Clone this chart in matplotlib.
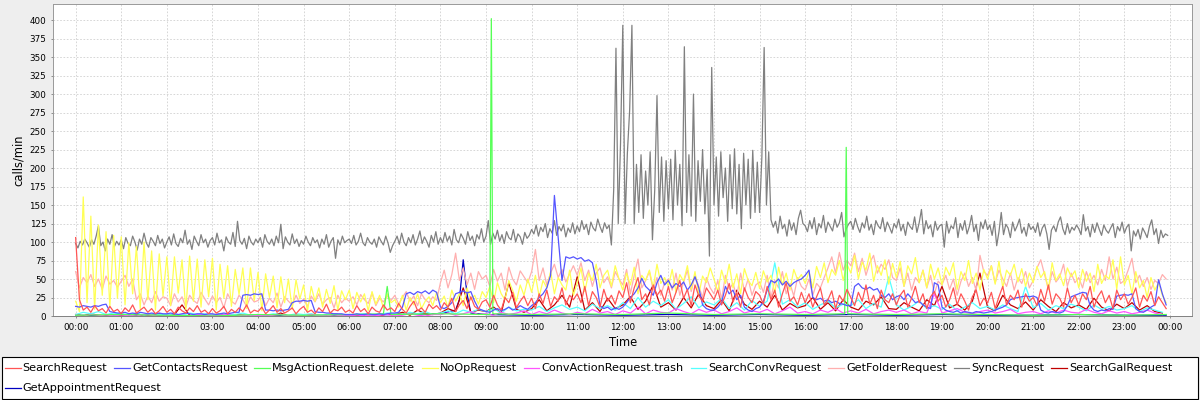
import numpy as np
import matplotlib
matplotlib.use("Agg")
import matplotlib.pyplot as plt
from matplotlib.lines import Line2D
from matplotlib.patches import Rectangle

# SyncRequest, one value every 3 minutes (20 per hour)
sync = [
    98, 92, 101, 96, 104, 99, 93, 103, 97, 108, 122, 95, 100, 88, 104, 97, 110, 94, 101, 96,
    103, 91, 106, 98, 95, 108, 100, 89, 104, 97, 112, 99, 93, 106, 101, 95, 109, 98, 104, 92,
    100, 107, 96, 111, 98, 94, 105, 99, 116, 97, 103, 90, 108, 101, 95, 110, 99, 104, 93, 102,
    106, 96, 112, 99, 103, 88, 107, 100, 97, 113, 94, 128, 102, 97, 105, 91, 108, 100, 96, 104,
    99, 106, 93, 110, 101, 97, 104, 95, 108, 99, 124, 91, 107, 100, 96, 111, 98, 104, 94, 102,
    97, 108, 100, 95, 106, 99, 103, 92, 104, 97, 110, 93, 101, 106, 78, 103, 96, 108, 99, 102,
    104, 98, 109, 96, 101, 112, 99, 95, 106, 100, 97, 104, 93, 107, 101, 96, 108, 99, 86, 95,
    101, 108, 97, 112, 100, 95, 106, 99, 110, 96, 104, 115, 98, 107, 101, 93, 109, 100, 114, 97,
    106, 99, 113, 101, 108, 96, 117, 103, 99, 111, 105, 97, 114, 102, 108, 95, 110, 104, 118, 100,
    108, 129, 97, 112, 104, 116, 101, 110, 98, 114, 106, 103, 117, 100, 111, 107, 97, 113, 105, 109,
    117, 111, 123, 108, 120, 114, 125, 106, 118, 112, 129, 109, 121, 115, 124, 107, 119, 113, 126, 111,
    122, 114, 129, 117, 124, 110, 127, 119, 115, 131, 121, 113, 126, 118, 123, 96, 170, 362, 125, 233,
    393, 125, 220, 278, 393, 125, 205, 140, 218, 132, 196, 150, 222, 103, 170, 298, 140, 215, 128, 210,
    145, 212, 130, 224, 150, 205, 122, 364, 140, 218, 135, 300, 128, 210, 155, 225, 138, 198, 81, 336,
    150, 215, 135, 222, 160, 200, 128, 218, 145, 226, 138, 205, 118, 220, 150, 212, 132, 224, 140, 208,
    140, 215, 363, 150, 222, 130, 120, 128, 112, 135, 118, 124, 108, 130, 116, 126, 110, 132, 143, 125,
    122, 114, 129, 118, 133, 110, 125, 119, 136, 113, 127, 121, 115, 131, 120, 126, 140, 107, 118, 124,
    128, 117, 132, 121, 113, 126, 119, 135, 116, 124, 110, 129, 122, 118, 133, 114, 127, 120, 112, 125,
    119, 131, 115, 124, 109, 127, 121, 117, 134, 113, 126, 144, 111, 129, 118, 123, 107, 128, 116, 122,
    124, 93, 128, 112, 122, 118, 133, 106, 125, 116, 129, 111, 121, 136, 114, 124, 102, 127, 118, 130,
    117, 123, 109, 128, 95, 114, 140, 110, 124, 119, 106, 127, 115, 122, 131, 112, 120, 108, 125, 117,
    121, 113, 126, 108, 119, 124, 111, 90, 116, 122, 114, 127, 134, 118, 110, 125, 112, 120, 116, 123,
    118, 110, 137, 115, 121, 107, 124, 113, 126, 117, 109, 123, 116, 112, 119, 125, 106, 121, 115, 127,
    112, 120, 124, 88, 115, 108, 117, 104, 119, 113, 106, 121, 130, 110, 118, 98, 116, 106, 111, 109,
]

# NoOpRequest, GetFolderRequest, SearchRequest, GetContactsRequest: every 5 minutes
noop = [
    20, 6, 161, 18, 135, 9, 123, 28, 114, 12, 109, 24,
    107, 15, 99, 30, 94, 10, 100, 22, 88, 8, 84, 27,
    80, 14, 80, 31, 76, 9, 81, 20, 77, 12, 76, 26,
    78, 8, 70, 24, 68, 13, 63, 29, 65, 10, 65, 21,
    59, 7, 57, 25, 54, 11, 53, 18, 50, 9, 49, 23,
    42, 6, 40, 20, 38, 12, 36, 17, 41, 8, 34, 22,
    35, 10, 32, 19, 30, 7, 33, 16, 28, 11, 30, 18,
    22, 12, 28, 8, 25, 15, 30, 10, 20, 26, 14, 32,
    18, 27, 11, 35, 20, 30, 14, 38, 22, 28, 16, 33,
    25, 40, 18, 45, 30, 22, 48, 35, 20, 42, 28, 50,
    32, 55, 26, 48, 38, 60, 30, 52, 42, 35, 62, 28,
    45, 65, 33, 58, 48, 70, 38, 55, 62, 40, 68, 50,
    35, 58, 42, 66, 30, 55, 48, 62, 38, 70, 44, 52,
    40, 63, 32, 56, 47, 68, 36, 60, 29, 54, 45, 65,
    50, 33, 62, 44, 70, 38, 57, 30, 64, 48, 41, 59,
    37, 61, 46, 55, 31, 66, 42, 58, 35, 63, 49, 56,
    44, 60, 38, 67, 52, 72, 45, 63, 55, 75, 48, 70,
    58, 82, 50, 73, 62, 85, 47, 68, 55, 76, 43, 71,
    52, 74, 40, 68, 57, 79, 45, 62, 38, 70, 50, 65,
    42, 66, 55, 72, 36, 60, 48, 75, 44, 58, 35, 63,
    50, 68, 43, 74, 38, 62, 55, 70, 46, 64, 40, 58,
    45, 67, 52, 60, 36, 72, 48, 57, 41, 65, 53, 61,
    38, 63, 47, 58, 33, 70, 44, 55, 50, 76, 36, 80,
    42, 55, 30, 60, 38, 48, 25, 52, 35, 45, 28, 18,
]

folder = [
    60, 38, 52, 45, 56, 40, 50, 36, 54, 43, 48, 39,
    47, 55, 40, 50, 22, 30, 15, 27, 18, 33, 20, 26,
    24, 14, 30, 19, 26, 12, 28, 21, 17, 32, 23, 15,
    27, 18, 25, 11, 30, 20, 16, 28, 22, 13, 26, 19,
    21, 29, 14, 24, 18, 31, 12, 26, 20, 15, 28, 17,
    23, 13, 27, 19, 30, 16, 22, 25, 11, 28, 18, 24,
    20, 26, 15, 29, 22, 17, 31, 14, 24, 19, 27, 21,
    28, 16, 25, 33, 20, 27, 14, 30, 22, 18, 26, 21,
    45, 62, 38, 56, 85, 48, 65, 42, 58, 36, 60, 50,
    55, 40, 63, 47, 58, 35, 66, 50, 42, 61, 53, 45,
    60, 90, 48, 65, 42, 58, 70, 52, 63, 46, 57, 68,
    55, 72, 48, 62, 40, 58, 65, 45, 53, 38, 60, 50,
    42, 63, 30, 55, 77, 38, 48, 60, 35, 52, 28, 45,
    50, 35, 58, 28, 46, 62, 33, 55, 40, 25, 52, 38,
    30, 48, 22, 55, 36, 44, 26, 58, 34, 50, 28, 42,
    46, 32, 55, 25, 48, 38, 60, 30, 44, 27, 52, 40,
    35, 50, 28, 44, 38, 52, 65, 80, 58, 86, 62, 75,
    68, 85, 60, 78, 55, 72, 82, 58, 70, 63, 76, 52,
    48, 65, 40, 58, 35, 52, 45, 62, 38, 55, 30, 47,
    42, 55, 36, 50, 28, 47, 58, 40, 52, 34, 82, 60,
    55, 68, 45, 62, 50, 40, 58, 35, 52, 44, 60, 38,
    48, 65, 76, 56, 36, 60, 46, 53, 70, 40, 58, 45,
    52, 38, 60, 45, 55, 42, 63, 48, 80, 50, 66, 44,
    48, 62, 78, 45, 55, 40, 52, 36, 48, 44, 56, 50,
]

search = [
    106, 22, 8, 12, 5, 14, 7, 10, 4, 13, 6, 9,
    3, 11, 6, 15, 4, 8, 12, 5, 10, 3, 7, 13,
    5, 9, 3, 12, 7, 4, 11, 6, 14, 5, 8, 3,
    10, 4, 7, 13, 3, 9, 5, 11, 6, 15, 4, 8,
    6, 12, 3, 8, 14, 5, 10, 4, 7, 11, 3, 9,
    13, 5, 8, 3, 11, 6, 16, 4, 9, 7, 12, 5,
    8, 4, 14, 6, 10, 3, 12, 7, 5, 15, 8, 11,
    6, 17, 9, 4, 13, 20, 7, 11, 5, 16, 10, 14,
    8, 18, 12, 24, 6, 15, 21, 10, 26, 13, 9, 19,
    22, 12, 28, 15, 8, 25, 18, 32, 11, 20, 27, 14,
    24, 10, 30, 17, 35, 13, 26, 20, 38, 15, 28, 22,
    30, 18, 40, 14, 33, 25, 12, 36, 20, 28, 16, 34,
    25, 45, 18, 38, 52, 22, 30, 15, 42, 28, 35, 20,
    40, 18, 32, 48, 24, 36, 14, 42, 27, 20, 38, 30,
    22, 35, 15, 28, 44, 19, 31, 12, 38, 25, 18, 33,
    28, 16, 40, 22, 35, 12, 30, 45, 20, 26, 15, 32,
    18, 30, 12, 26, 38, 15, 22, 34, 10, 28, 20, 36,
    25, 14, 32, 20, 42, 16, 28, 10, 35, 22, 18, 30,
    15, 28, 35, 12, 24, 40, 18, 30, 10, 26, 33, 20,
    28, 12, 22, 38, 15, 30, 20, 8, 26, 35, 14, 24,
    18, 32, 10, 26, 40, 15, 28, 22, 35, 12, 30, 20,
    25, 14, 36, 20, 42, 16, 30, 24, 12, 38, 18, 28,
    15, 30, 22, 40, 12, 26, 34, 18, 28, 10, 35, 22,
    30, 16, 25, 38, 12, 28, 20, 33, 14, 26, 18, 10,
]

contacts = [
    13, 12, 14, 13, 12, 14, 13, 15, 16, 6, 5, 4,
    4, 5, 3, 4, 3, 5, 4, 3, 4, 3, 4, 3,
    3, 4, 3, 2, 3, 4, 3, 2, 3, 3, 2, 3,
    3, 2, 3, 4, 3, 4, 5, 5, 28, 29, 28, 30,
    29, 30, 8, 8, 7, 8, 7, 8, 9, 18, 20, 20,
    21, 20, 21, 6, 5, 5, 4, 4, 3, 3, 3, 2,
    2, 2, 3, 2, 2, 3, 2, 2, 3, 2, 3, 4,
    4, 5, 12, 30, 32, 29, 33, 31, 34, 30, 35, 32,
    12, 10, 13, 18, 30, 32, 34, 31, 33, 20, 10, 8,
    6, 5, 8, 10, 7, 9, 12, 8, 10, 14, 11, 9,
    14, 18, 25, 30, 38, 55, 163, 105, 48, 80, 78, 80,
    77, 79, 74, 76, 72, 48, 14, 10, 12, 8, 11, 9,
    12, 18, 25, 30, 38, 51, 40, 35, 28, 45, 55, 42,
    48, 38, 44, 40, 46, 35, 42, 53, 38, 15, 10, 8,
    8, 12, 18, 40, 30, 35, 22, 28, 12, 8, 6, 10,
    12, 20, 35, 48, 45, 50, 42, 47, 40, 45, 48, 50,
    55, 62, 25, 22, 24, 20, 22, 18, 20, 17, 16, 14,
    14, 40, 44, 38, 36, 39, 35, 37, 28, 25, 30, 22,
    26, 28, 22, 30, 24, 18, 20, 15, 12, 10, 45, 42,
    12, 8, 6, 5, 7, 4, 6, 5, 4, 6, 5, 4,
    5, 6, 8, 10, 12, 15, 22, 24, 25, 26, 27, 26,
    27, 25, 8, 5, 4, 6, 5, 4, 6, 14, 26, 28,
    30, 32, 31, 14, 8, 6, 8, 7, 10, 9, 27, 28,
    29, 28, 30, 10, 6, 5, 8, 12, 15, 49, 30, 15,
]

# SearchConvRequest, ConvActionRequest.trash, SearchGalRequest: every 10 minutes
searchconv = [
    2, 5, 3, 6, 2, 4, 3, 2, 4, 1, 3, 2, 2, 3, 1, 4, 2, 3, 1, 3, 2, 2, 4, 1,
    2, 1, 3, 2, 1, 3, 2, 3, 1, 2, 3, 1, 1, 2, 3, 1, 2, 4, 3, 2, 5, 3, 6, 2,
    4, 7, 3, 8, 5, 9, 6, 10, 4, 12, 7, 9, 8, 13, 6, 11, 15, 9, 12, 7, 16, 10, 14, 8,
    18, 10, 25, 12, 20, 14, 22, 9, 17, 26, 11, 19, 15, 24, 10, 18, 8, 21, 13, 20, 72, 16, 22, 12,
    18, 9, 15, 20, 11, 16, 14, 22, 10, 17, 12, 53, 15, 8, 13, 20, 10, 14, 9, 16, 7, 12, 18, 10,
    13, 8, 15, 10, 6, 40, 11, 17, 8, 14, 10, 16, 12, 7, 15, 9, 13, 8, 10, 14, 6, 11, 8, 5,
]

convtrash = [
    1, 0, 2, 1, 0, 1, 0, 1, 0, 2, 1, 0, 1, 0, 1, 0, 2, 1, 0, 1, 2, 0, 1, 0,
    1, 0, 1, 2, 0, 1, 0, 2, 0, 1, 0, 1, 1, 0, 1, 0, 1, 2, 0, 1, 3, 1, 0, 2,
    2, 4, 1, 3, 6, 2, 3, 1, 5, 2, 4, 7, 2, 6, 3, 8, 4, 2, 5, 3, 9, 4, 6, 2,
    7, 4, 12, 3, 8, 5, 4, 10, 6, 3, 9, 5, 8, 3, 6, 11, 4, 7, 5, 9, 3, 7, 12, 4,
    6, 3, 8, 5, 10, 4, 7, 4, 9, 3, 6, 8, 5, 8, 3, 6, 4, 30, 4, 7, 10, 5, 3, 6,
    8, 4, 6, 9, 3, 5, 6, 3, 7, 4, 8, 5, 4, 9, 5, 3, 7, 4, 6, 3, 5, 8, 4, 2,
]

searchgal = [
    2, 0, 3, 1, 0, 2, 1, 0, 2, 0, 1, 3, 0, 2, 15, 1, 0, 2, 1, 3, 0, 2, 1, 0,
    2, 0, 1, 4, 0, 1, 0, 2, 1, 0, 3, 1, 1, 0, 2, 1, 0, 3, 2, 5, 1, 8, 3, 2,
    4, 10, 6, 38, 5, 8, 6, 12, 4, 45, 9, 5, 10, 22, 7, 15, 28, 12, 53, 8, 18, 6, 24, 10,
    15, 26, 9, 20, 42, 12, 18, 8, 25, 11, 30, 14, 10, 22, 7, 35, 16, 9, 20, 12, 28, 8, 17, 11,
    14, 25, 9, 18, 7, 22, 12, 8, 20, 15, 26, 10, 9, 18, 12, 7, 22, 14, 40, 11, 16, 8, 20, 58,
    12, 7, 28, 15, 10, 19, 8, 22, 13, 6, 18, 11, 15, 9, 24, 12, 7, 16, 10, 18, 8, 14, 6, 4,
]

# sparse series, minute of day and value
msgdel_min = [0, 60, 120, 180, 240, 300, 360, 405, 410, 415, 480, 545, 547, 549, 600, 660,
              720, 780, 840, 900, 960, 1012, 1014, 1016, 1080, 1140, 1200, 1260, 1320, 1380, 1435]
msgdel = [1, 2, 1, 0, 2, 1, 2, 3, 40, 2, 3, 2, 402, 3, 2, 3,
          2, 4, 2, 3, 2, 3, 228, 3, 2, 3, 2, 1, 2, 1, 2]

appt_min = [0, 60, 120, 180, 240, 300, 360, 420, 480, 500, 505, 510, 515, 520, 540, 600,
            660, 720, 780, 840, 900, 960, 1020, 1080, 1140, 1200, 1260, 1320, 1380, 1435]
appt = [1, 0, 1, 0, 1, 0, 1, 2, 3, 8, 22, 76, 30, 4, 2, 1,
        2, 1, 2, 1, 2, 1, 2, 1, 2, 1, 1, 2, 1, 1]

names = ["SearchRequest", "GetContactsRequest", "MsgActionRequest.delete", "NoOpRequest",
         "ConvActionRequest.trash", "SearchConvRequest", "GetFolderRequest", "SyncRequest",
         "SearchGalRequest", "GetAppointmentRequest"]
colors = ["#FF5555", "#5555FF", "#55FF55", "#FFFF55", "#FF55FF", "#55FFFF", "#FFAFAF",
          "#808080", "#C00000", "#0000C0"]


def hours(vals, step):
    return np.arange(len(vals)) * step / 60.0


series = [
    (hours(search, 5), search),
    (hours(contacts, 5), contacts),
    (np.array(msgdel_min) / 60.0, msgdel),
    (hours(noop, 5), noop),
    (hours(convtrash, 10), convtrash),
    (hours(searchconv, 10), searchconv),
    (hours(folder, 5), folder),
    (hours(sync, 3), sync),
    (hours(searchgal, 10), searchgal),
    (np.array(appt_min) / 60.0, appt),
]

W, H = 1200, 400
fig = plt.figure(figsize=(12, 4), dpi=100, facecolor="#EEEEEE")
left, right, top, bottom = 53.3, 1192.3, 4.3, 316.0
ax = fig.add_axes([left / W, 1 - bottom / H, (right - left) / W, (bottom - top) / H])
ax.set_facecolor("white")

for i, (t, v) in enumerate(series):
    ax.plot(t, v, color=colors[i], lw=0.9, zorder=20 - i)

ax.set_xlim(-0.49, 24.49)
ax.set_ylim(0, 421.4)
ax.set_xticks(range(25))
ax.set_xticklabels(["%02d:00" % (h % 24) for h in range(25)])
ax.set_yticks(range(0, 401, 25))
ax.grid(True, color="#D0D0D0", linestyle=(0, (2, 2)), lw=0.6)
ax.set_axisbelow(True)
ax.tick_params(labelsize=6.3, length=1.5, width=0.6, color="#808080", pad=3.6)
for s in ax.spines.values():
    s.set_color("#999999")
    s.set_linewidth(0.7)
ax.spines["bottom"].set_color("#808080")

fig.text(18 / W, 1 - 160 / H, "calls/min", rotation=90, fontsize=8.3, ha="center", va="center")
fig.text((left + right) / 2 / W, 1 - 342.5 / H, "Time", fontsize=8.3, ha="center", va="center")

# legend box, flow layout like the original
fig.add_artist(Rectangle((1.7 / W, 1 - 399 / H), (1197.5 - 1.7) / W, (399 - 357.3) / H,
                         transform=fig.transFigure, facecolor="white", edgecolor="black", lw=0.8))
fig.canvas.draw()
r = fig.canvas.get_renderer()
rows = [367.7, 387.7]
row = 0
x = 5.0
for name, col in zip(names, colors):
    t = fig.text(0, 0, name, fontsize=8.1, ha="left", va="center")
    w = t.get_window_extent(r).width
    if x + 17.7 + w > 1195:
        row += 1
        x = 5.0
    yy = 1 - rows[row] / H
    fig.add_artist(Line2D([x / W, (x + 15.7) / W], [yy, yy], color=col, lw=0.9))
    t.set_position(((x + 17.7) / W, yy))
    x += 17.7 + w + 6.9

fig.savefig("out.png", dpi=100, facecolor=fig.get_facecolor())
